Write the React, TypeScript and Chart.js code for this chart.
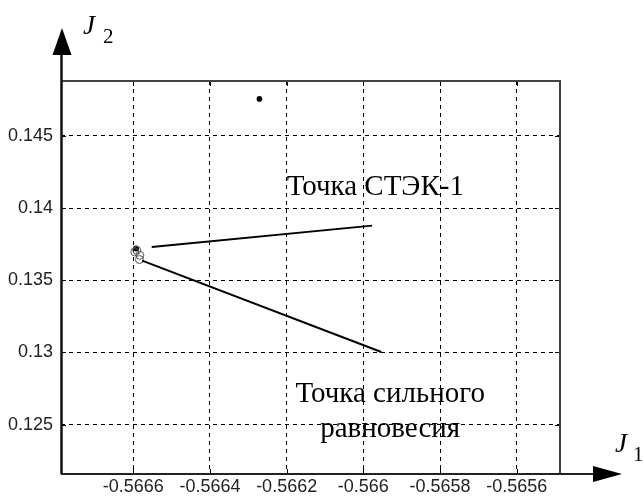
import React, { useEffect, useRef } from "react";
import { Chart, registerables } from "chart.js";

Chart.register(...registerables);

// Axis ranges and tick labels
const xTicks = [-0.5666, -0.5664, -0.5662, -0.566, -0.5658, -0.5656];
const yTicks = [0.125, 0.13, 0.135, 0.14, 0.145];
const xRange = [-0.5667886, -0.565487];
const yRange = [0.12158, 0.1488];

// Cluster of circles (J1, J2)
const clusterCircleJ1 = [-0.566596, -0.566591, -0.566583, -0.566584];
const clusterCircleJ2 = [0.136964, 0.137075, 0.136729, 0.136432];
// Filled point within cluster
const clusterDotJ1 = [-0.566593];
const clusterDotJ2 = [0.137192];
// Isolated filled point
const isolatedJ1 = [-0.566271];
const isolatedJ2 = [0.147559];
// Leader lines
const leaderStekJ1 = [-0.566552, -0.565977];
const leaderStekJ2 = [0.13731, 0.138783];
const leaderEquilJ1 = [-0.566577, -0.565953];
const leaderEquilJ2 = [0.136362, 0.13003];

// Annotation texts (anchored in data coordinates)
const labelStek = { text: "Точка СТЭК-1", x: -0.5662, y: 0.1409, align: "left" };
const labelEquil1 = { text: "Точка сильного", x: -0.56593, y: 0.12656, align: "center" };
const labelEquil2 = { text: "равновесия", x: -0.56593, y: 0.12414, align: "center" };

const zip = (a: number[], b: number[]) => a.map((v, i) => ({ x: v, y: b[i] }));

const decorPlugin = {
  id: "decor",
  afterDatasetsDraw(chart: any) {
    const { ctx, chartArea, scales } = chart;
    const { left, right, top, bottom } = chartArea;
    const xs = scales.x;
    const ys = scales.y;
    ctx.save();
    // inner ticks
    ctx.strokeStyle = "#000";
    ctx.lineWidth = 1;
    ctx.beginPath();
    xTicks.forEach((v) => {
      const px = Math.round(xs.getPixelForValue(v)) + 0.5;
      ctx.moveTo(px, top);
      ctx.lineTo(px, top + 5);
      ctx.moveTo(px, bottom);
      ctx.lineTo(px, bottom - 5);
    });
    yTicks.forEach((v) => {
      const py = Math.round(ys.getPixelForValue(v)) + 0.5;
      ctx.moveTo(left, py);
      ctx.lineTo(left + 5, py);
      ctx.moveTo(right, py);
      ctx.lineTo(right - 5, py);
    });
    ctx.stroke();

    // frame top / right
    ctx.strokeStyle = "#444";
    ctx.lineWidth = 2;
    ctx.beginPath();
    ctx.moveTo(left, top);
    ctx.lineTo(right, top);
    ctx.lineTo(right, bottom);
    ctx.stroke();

    // x axis with arrow
    ctx.strokeStyle = "#222";
    ctx.beginPath();
    ctx.moveTo(left, bottom);
    ctx.lineTo(right + 34, bottom);
    ctx.stroke();
    ctx.fillStyle = "#000";
    ctx.beginPath();
    ctx.moveTo(right + 62, bottom);
    ctx.lineTo(right + 33, bottom - 8);
    ctx.lineTo(right + 33, bottom + 8);
    ctx.closePath();
    ctx.fill();

    // y axis with arrow
    ctx.strokeStyle = "#111";
    ctx.lineWidth = 2.5;
    ctx.beginPath();
    ctx.moveTo(left + 0.5, bottom);
    ctx.lineTo(left + 0.5, top - 27);
    ctx.stroke();
    ctx.beginPath();
    ctx.moveTo(left + 1, top - 53);
    ctx.lineTo(left - 8.5, top - 26);
    ctx.lineTo(left + 10.5, top - 26);
    ctx.closePath();
    ctx.fill();

    // axis titles
    ctx.fillStyle = "#000";
    ctx.textAlign = "left";
    ctx.textBaseline = "alphabetic";
    ctx.font = 'italic 27px "Liberation Serif"';
    ctx.fillText("J", left + 22, top - 47);
    ctx.fillText("J", right + 55, bottom - 22);
    ctx.font = '21px "Liberation Serif"';
    ctx.fillText("2", left + 42, top - 38);
    ctx.fillText("1", right + 73, bottom - 13);

    // annotation texts
    ctx.font = '29px "Liberation Serif"';
    [labelStek, labelEquil1, labelEquil2].forEach((l) => {
      ctx.textAlign = l.align;
      ctx.fillText(l.text, xs.getPixelForValue(l.x), ys.getPixelForValue(l.y));
    });
    ctx.restore();
  },
};

export default function App() {
  const ref = useRef<HTMLCanvasElement>(null);
  useEffect(() => {
    if (!ref.current) return;
    const tickFont = { family: '"Liberation Sans", Arial, sans-serif', size: 18 };
    const chart = new Chart(ref.current, {
      type: "scatter",
      data: {
        datasets: [
          {
            data: zip(leaderStekJ1, leaderStekJ2),
            showLine: true,
            borderColor: "#000",
            borderWidth: 2,
            pointRadius: 0,
          },
          {
            data: zip(leaderEquilJ1, leaderEquilJ2),
            showLine: true,
            borderColor: "#000",
            borderWidth: 2,
            pointRadius: 0,
          },
          {
            data: zip(clusterCircleJ1, clusterCircleJ2),
            pointRadius: 4,
            pointStyle: "circle",
            borderColor: "#555",
            backgroundColor: "rgba(0,0,0,0)",
            borderWidth: 1,
          },
          {
            data: zip(clusterDotJ1, clusterDotJ2),
            pointRadius: 3,
            borderColor: "#000",
            backgroundColor: "#000",
            borderWidth: 0,
          },
          {
            data: zip(isolatedJ1, isolatedJ2),
            pointRadius: 2.8,
            borderColor: "#000",
            backgroundColor: "#000",
            borderWidth: 0,
          },
        ],
      },
      options: {
        animation: false,
        responsive: false,
        devicePixelRatio: 1,
        layout: { padding: { left: 0, top: 81, right: 83, bottom: 0 } },
        plugins: { legend: { display: false }, tooltip: { enabled: false } },
        scales: {
          x: {
            type: "linear",
            min: xRange[0],
            max: xRange[1],
            afterBuildTicks: (s: any) => {
              s.ticks = xTicks.map((v) => ({ value: v }));
            },
            afterFit: (s: any) => {
              s.height = 27;
            },
            ticks: {
              autoSkip: false,
              maxRotation: 0,
              padding: 2,
              color: "#222",
              font: tickFont,
              callback: (v: any) => String(Number(Number(v).toFixed(4))),
            },
            grid: { color: "#000", lineWidth: 1, drawTicks: false },
            border: { display: false, dash: [4, 4] },
          },
          y: {
            type: "linear",
            min: yRange[0],
            max: yRange[1],
            afterBuildTicks: (s: any) => {
              s.ticks = yTicks.map((v) => ({ value: v }));
            },
            afterFit: (s: any) => {
              s.width = 61;
            },
            ticks: {
              autoSkip: false,
              padding: 8,
              color: "#222",
              font: tickFont,
              callback: (v: any) => String(Number(Number(v).toFixed(4))),
            },
            grid: { color: "#000", lineWidth: 1, drawTicks: false },
            border: { display: false, dash: [4, 4] },
          },
        },
      },
      plugins: [decorPlugin],
    } as any);
    return () => chart.destroy();
  }, []);
  return (
    <div style={{ position: "fixed", left: 0, top: 0, width: 643, height: 501, background: "#fff" }}>
      <canvas ref={ref} width={643} height={501} style={{ display: "block" }} />
    </div>
  );
}
